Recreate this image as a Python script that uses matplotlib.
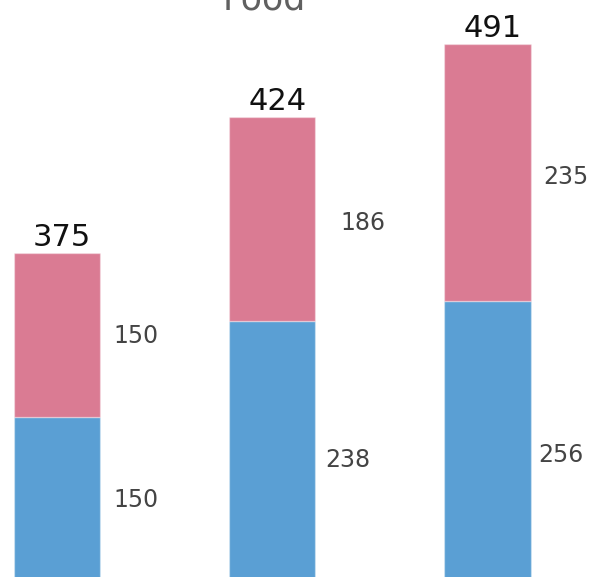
import matplotlib
matplotlib.use("Agg")
import matplotlib.pyplot as plt

# ---- data ----
categories = ["A", "B", "C"]
blue_values = [150, 238, 256]
pink_values = [150, 186, 235]
total_labels = ["375", "424", "491"]
title = "Food"

# ---- style ----
blue = "#5a9fd4"
pink = "#da7b93"
seg_offsets_pink = [(13, -8), (25, -11), (13, -11.5)]   # px: (dx from bar edge, dy baseline below segment middle)
seg_offsets_blue = [(13, -8), (10, -16), (8, -21)]
bar_width = 0.4

plt.rcParams['font.family'] = ['DejaVu Sans']
fig = plt.figure(figsize=(5.9, 5.77), dpi=100)
ax = fig.add_axes([0, 0, 1, 1])
ax.set_xlim(-0.2648, 2.476)
ax.set_ylim(3.66, 531.1)
ax.axis("off")

x = list(range(len(categories)))
ax.bar(x, blue_values, width=bar_width, color=blue, edgecolor=(1, 1, 1, 0.35), linewidth=1)
ax.bar(x, pink_values, width=bar_width, bottom=blue_values, color=pink,
       edgecolor=(1, 1, 1, 0.35), linewidth=1)

pt = 72 / 100.0
for i in x:
    b, p = blue_values[i], pink_values[i]
    right = i + bar_width / 2
    dx, dy = seg_offsets_blue[i]
    ax.annotate(str(b), (right, b / 2), xytext=(dx * pt, dy * pt), textcoords="offset points",
                ha="left", va="baseline", fontsize=17, color="#444444")
    dx, dy = seg_offsets_pink[i]
    ax.annotate(str(p), (right, b + p / 2), xytext=(dx * pt, dy * pt), textcoords="offset points",
                ha="left", va="baseline", fontsize=17, color="#444444")
    ax.annotate(total_labels[i], (i, b + p), xytext=(5 * pt, 7 * pt), textcoords="offset points",
                ha="center", va="baseline", fontsize=22, color="#111111")

ax.text(0.964, (581 - 9) / 1.094, title, ha="center", va="baseline", fontsize=25,
        color="#606060", clip_on=False)

fig.savefig("out.png", dpi=100)
